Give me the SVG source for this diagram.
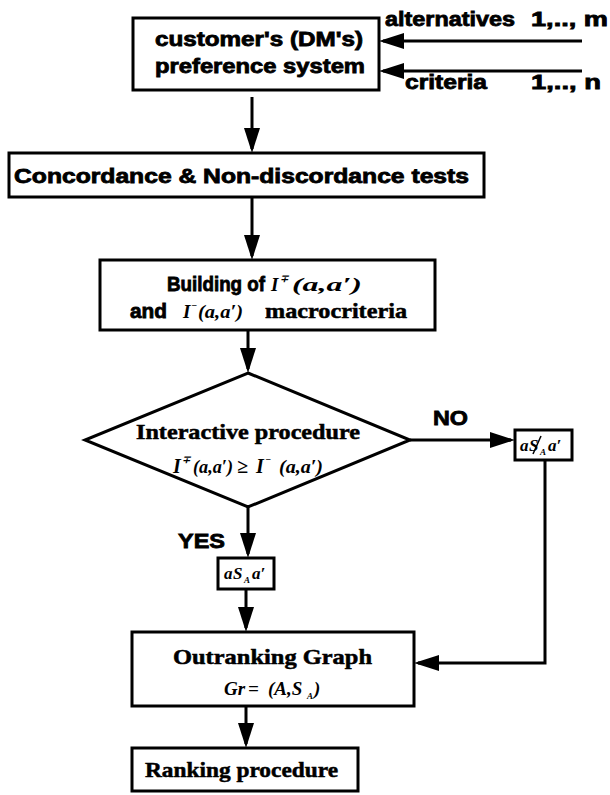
<svg xmlns="http://www.w3.org/2000/svg" width="610" height="795" viewBox="0 0 610 795">
<style>
.box{fill:#fff;stroke:#000;stroke-width:3}
.ln{fill:none;stroke:#000;stroke-width:3}
.sans{font-family:"Liberation Sans",Arial,sans-serif;font-weight:bold;font-size:20px;fill:#000;stroke:#000;stroke-width:0.8}
.serif{font-family:"Liberation Serif","Times New Roman",serif;font-weight:bold;font-size:21px;fill:#000;stroke:#000;stroke-width:0.5}
.m{font-family:"Liberation Serif","Times New Roman",serif;font-style:italic;font-weight:bold}
</style>
<defs>
<marker id="ah" markerUnits="userSpaceOnUse" markerWidth="26" markerHeight="16" refX="21" refY="8" orient="auto">
<path d="M0,0 L25,8 L0,16 z" fill="#000"/>
</marker>
</defs>
<g id="connectors">
<path class="ln" d="M582,41 L383,41" marker-end="url(#ah)"/>
<path class="ln" d="M582,71 L383,71" marker-end="url(#ah)"/>
<path class="ln" d="M252,97 L252,149" marker-end="url(#ah)"/>
<path class="ln" d="M252,197 L252,256" marker-end="url(#ah)"/>
<path class="ln" d="M248,330 L248,369" marker-end="url(#ah)"/>
<path class="ln" d="M410,440 L511,440" marker-end="url(#ah)"/>
<path class="ln" d="M248,507 L248,554" marker-end="url(#ah)"/>
<path class="ln" d="M246,589 L246,628" marker-end="url(#ah)"/>
<path class="ln" d="M545,460 L545,663 L418,663" marker-end="url(#ah)"/>
<path class="ln" d="M246,706 L246,744" marker-end="url(#ah)"/>
</g>
<g id="inputs">
<text class="sans" x="385" y="26" textLength="130" lengthAdjust="spacingAndGlyphs">alternatives</text>
<text class="sans" x="531" y="26" textLength="77" lengthAdjust="spacingAndGlyphs">1,.., m</text>
<text class="sans" x="405" y="89" textLength="82" lengthAdjust="spacingAndGlyphs">criteria</text>
<text class="sans" x="531" y="89" textLength="70" lengthAdjust="spacingAndGlyphs">1,.., n</text>
</g>
<g id="preference">
<rect class="box" x="133" y="18" width="246" height="72"/>
<text class="sans" x="155" y="46" textLength="208" lengthAdjust="spacingAndGlyphs">customer's (DM's)</text>
<text class="sans" x="155" y="73" textLength="210" lengthAdjust="spacingAndGlyphs">preference system</text>
</g>
<g id="tests">
<rect class="box" x="9" y="153" width="475" height="44"/>
<text class="sans" x="14" y="183" textLength="455" lengthAdjust="spacingAndGlyphs">Concordance &amp; Non-discordance tests</text>
</g>
<g id="building">
<rect class="box" x="100" y="260" width="335" height="70"/>
<text class="sans" x="167" y="291" textLength="98" lengthAdjust="spacingAndGlyphs">Building of</text>
<text x="271" y="291" class="m" font-size="19">I</text>
<text x="280" y="282" class="m" font-size="10">∓</text>
<text x="292" y="291" class="m" font-size="18" textLength="70" lengthAdjust="spacingAndGlyphs">(a,a′)</text>
<text class="sans" x="130" y="318" textLength="37" lengthAdjust="spacingAndGlyphs">and</text>
<text x="183" y="318" class="m" font-size="19">I</text>
<text x="191" y="309" class="m" font-size="10">−</text>
<text x="198" y="318" class="m" font-size="18" textLength="45" lengthAdjust="spacingAndGlyphs">(a,a′)</text>
<text class="serif" x="265" y="318" textLength="142" lengthAdjust="spacingAndGlyphs">macrocriteria</text>
</g>
<g id="decision">
<polygon class="box" points="248,373 410,440 248,507 85,440"/>
<text class="serif" x="136" y="439" textLength="224" lengthAdjust="spacingAndGlyphs">Interactive procedure</text>
<text x="173" y="473" class="m" font-size="20">I</text>
<text x="182" y="463" class="m" font-size="10">∓</text>
<text x="193" y="473" class="m" font-size="19" textLength="40" lengthAdjust="spacingAndGlyphs">(a,a′)</text>
<text x="237" y="473" class="m" font-size="20" font-style="normal">≥</text>
<text x="256" y="473" class="m" font-size="20">I</text>
<text x="265" y="463" class="m" font-size="10">−</text>
<text x="279" y="473" class="m" font-size="19" textLength="44" lengthAdjust="spacingAndGlyphs">(a,a′)</text>
</g>
<g id="labels">
<text class="sans" x="433" y="425" textLength="35" lengthAdjust="spacingAndGlyphs">NO</text>
<text class="sans" x="178" y="548" textLength="47" lengthAdjust="spacingAndGlyphs">YES</text>
</g>
<g id="not-outranks">
<rect class="box" x="515" y="430" width="57" height="30"/>
<text x="520" y="451" class="m" font-size="17">a</text>
<text x="529" y="451" class="m" font-size="17">S</text>
<line x1="533" y1="454" x2="541" y2="436" stroke="#000" stroke-width="1.5"/>
<text x="540" y="455" class="m" font-size="9">A</text>
<text x="548" y="451" class="m" font-size="17">a′</text>
</g>
<g id="outranks">
<rect class="box" x="218" y="558" width="56" height="31"/>
<text x="224" y="579" class="m" font-size="17">a</text>
<text x="233" y="579" class="m" font-size="17">S</text>
<text x="244" y="583" class="m" font-size="9">A</text>
<text x="252" y="579" class="m" font-size="17">a′</text>
</g>
<g id="graph">
<rect class="box" x="132" y="632" width="282" height="74"/>
<text class="serif" x="173" y="664" textLength="199" lengthAdjust="spacingAndGlyphs">Outranking Graph</text>
<text x="224" y="695" class="m" font-size="19">Gr</text>
<text x="248" y="695" class="m" font-size="19" font-style="normal">=</text>
<text x="268" y="695" class="m" font-size="19">(A,S</text>
<text x="307" y="699" class="m" font-size="9">A</text>
<text x="314" y="695" class="m" font-size="19">)</text>
</g>
<g id="ranking">
<rect class="box" x="132" y="748" width="226" height="43"/>
<text class="serif" x="145" y="777" textLength="193" lengthAdjust="spacingAndGlyphs">Ranking procedure</text>
</g>
</svg>
